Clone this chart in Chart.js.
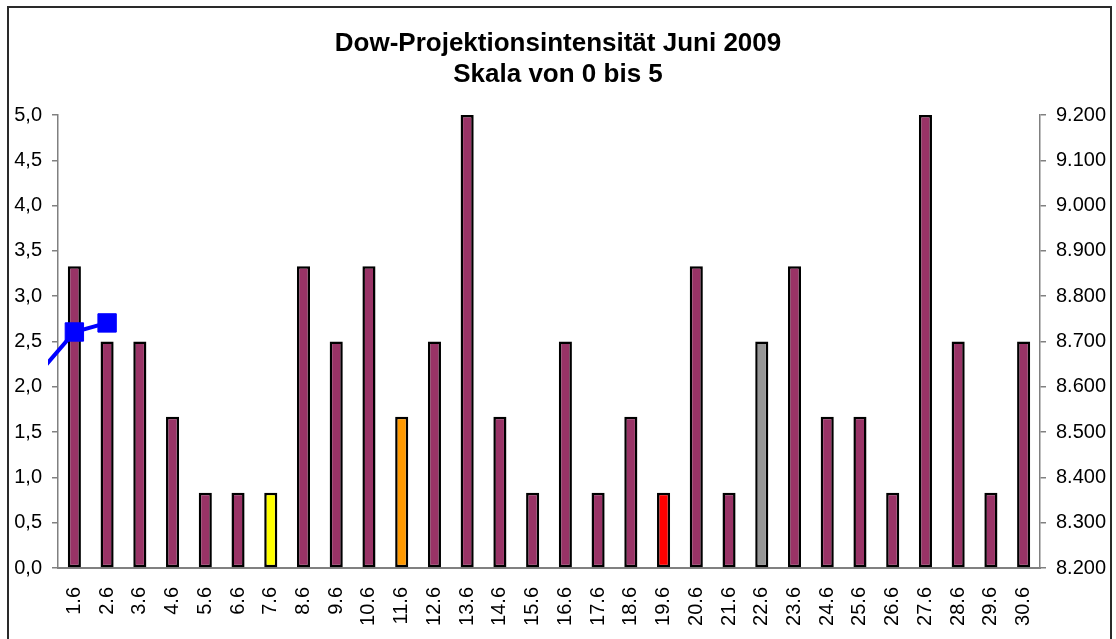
<!DOCTYPE html>
<html>
<head>
<meta charset="utf-8">
<script src="https://cdn.jsdelivr.net/npm/chart.js@4/dist/chart.umd.min.js"></script>
<style>
html,body{margin:0;padding:0;background:#fff;}
#wrap{width:1116px;height:639px;position:relative;}
</style>
</head>
<body>
<div id="wrap"><canvas id="c" width="1116" height="639"></canvas></div>
<script>
const categories = ['1.6','2.6','3.6','4.6','5.6','6.6','7.6','8.6','9.6','10.6','11.6','12.6','13.6','14.6','15.6','16.6','17.6','18.6','19.6','20.6','21.6','22.6','23.6','24.6','25.6','26.6','27.6','28.6','29.6','30.6'];
const intensity = [3.33,2.5,2.5,1.67,0.83,0.83,0.83,3.33,2.5,3.33,1.67,2.5,5.0,1.67,0.83,2.5,0.83,1.67,0.83,3.33,0.83,2.5,3.33,1.67,1.67,0.83,5.0,2.5,0.83,2.5];
const barColors = ['#993366','#993366','#993366','#993366','#993366','#993366','#FFFF00','#993366','#993366','#993366','#FF9900','#993366','#993366','#993366','#993366','#993366','#993366','#993366','#FF0000','#993366','#993366','#969696','#993366','#993366','#993366','#993366','#993366','#993366','#993366','#993366'];
// Dow index: positions are category indices (-1 = day before 1.6)
const dowIndex = [-1, 0, 1];
const dowValues = [8637, 8721, 8741];
const leftTickLabels = ['0,0','0,5','1,0','1,5','2,0','2,5','3,0','3,5','4,0','4,5','5,0'];
const rightTickLabels = ['8.200','8.300','8.400','8.500','8.600','8.700','8.800','8.900','9.000','9.100','9.200'];
const titleLines = ['Dow-Projektionsintensität Juni 2009','Skala von 0 bis 5'];

const FONT = 'Arial, "Liberation Sans", sans-serif';

const framePlugin = {
  id: 'frame',
  afterDraw(chart){
    const ctx = chart.ctx;
    ctx.save();
    ctx.strokeStyle = '#2a2a2a';
    ctx.lineWidth = 2;
    ctx.strokeRect(8, 7, 1103, 700);
    ctx.restore();
  }
};

new Chart(document.getElementById('c'), {
  type: 'bar',
  data: {
    labels: categories,
    datasets: [
      {
        type: 'line',
        label: 'Dow',
        data: dowIndex.map((x, i) => ({x: x, y: dowValues[i]})),
        xAxisID: 'xl',
        yAxisID: 'y2',
        borderColor: '#0000FF',
        backgroundColor: '#0000FF',
        borderWidth: 4,
        pointStyle: 'rect',
        pointRadius: 13,
        pointBorderWidth: 1,
        pointBorderColor: '#0000FF',
        pointBackgroundColor: '#0000FF',
        tension: 0,
        clip: {left: 10, top: 0, right: 0, bottom: 0},
        order: 0
      },
      {
        type: 'bar',
        label: 'Intensität',
        data: intensity,
        xAxisID: 'x',
        yAxisID: 'y',
        backgroundColor: barColors,
        borderColor: '#000000',
        borderWidth: 2.5,
        borderSkipped: false,
        grouped: false,
        barPercentage: 0.4,
        categoryPercentage: 1.0,
        order: 1
      }
    ]
  },
  options: {
    responsive: false,
    animation: false,
    layout: {padding: 0},
    plugins: {
      legend: {display: false},
      tooltip: {enabled: false},
      title: {
        display: true,
        text: titleLines,
        color: '#000',
        font: {family: FONT, size: 26, weight: 'bold', lineHeight: 1.2},
        padding: {top: 28.5, bottom: 24.1}
      }
    },
    scales: {
      x: {
        type: 'category',
        offset: true,
        grid: {display: false},
        border: {display: true, color: '#808080', width: 2},
        ticks: {
          color: '#000',
          font: {family: FONT, size: 20},
          minRotation: 90,
          maxRotation: 90,
          autoSkip: false,
          padding: 11
        },
        afterFit(scale){ scale.height = 71; }
      },
      xl: {
        type: 'linear',
        display: false,
        offset: false,
        min: -0.5,
        max: 29.5
      },
      y: {
        position: 'left',
        min: 0,
        max: 5,
        ticks: {
          stepSize: 0.5,
          color: '#000',
          font: {family: FONT, size: 20},
          padding: 10,
          callback: (v, i) => leftTickLabels[i]
        },
        grid: {drawOnChartArea: false, drawTicks: true, tickLength: 6, color: '#808080', lineWidth: 1.5},
        border: {display: true, color: '#808080', width: 1.5},
        afterFit(scale){ scale.width = 58; }
      },
      y2: {
        position: 'right',
        min: 8200,
        max: 9200,
        ticks: {
          stepSize: 100,
          color: '#000',
          font: {family: FONT, size: 20},
          padding: 10,
          callback: (v, i) => rightTickLabels[i]
        },
        grid: {drawOnChartArea: false, drawTicks: true, tickLength: 6, color: '#808080', lineWidth: 1.5},
        border: {display: true, color: '#808080', width: 1.5},
        afterFit(scale){ scale.width = 76; }
      }
    }
  },
  plugins: [framePlugin]
});
</script>
</body>
</html>
